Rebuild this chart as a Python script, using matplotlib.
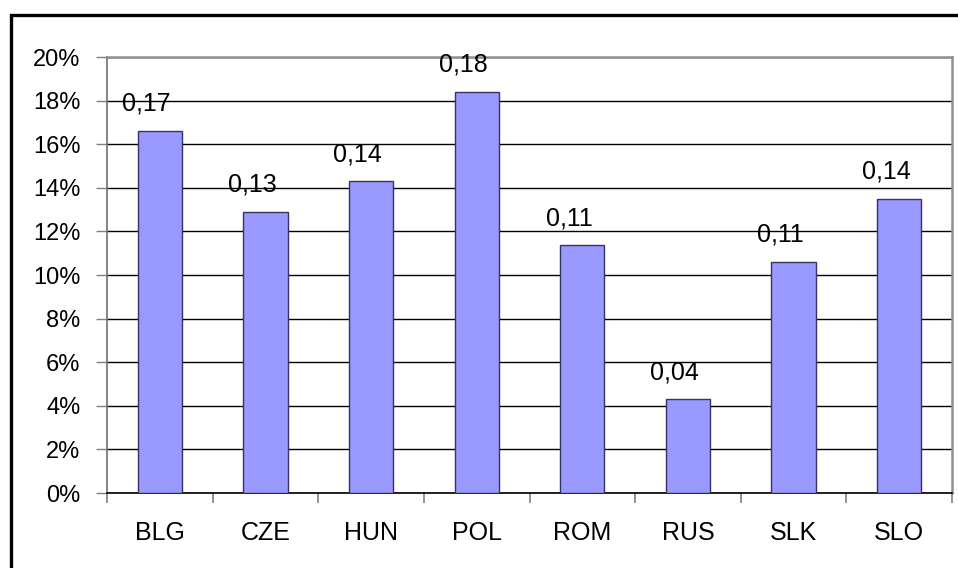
import matplotlib
matplotlib.use('Agg')
from matplotlib import pyplot as plt
from matplotlib.patches import Rectangle
from matplotlib.ticker import FuncFormatter, FixedLocator
import numpy as np

countries = ['BLG', 'CZE', 'HUN', 'POL', 'ROM', 'RUS', 'SLK', 'SLO']
shares = [0.166, 0.129, 0.143, 0.184, 0.1136, 0.043, 0.106, 0.135]
y_ticks = [0.00, 0.02, 0.04, 0.06, 0.08, 0.10, 0.12, 0.14, 0.16, 0.18, 0.20]

plt.rcParams['font.family'] = ['Liberation Sans', 'DejaVu Sans']

W, H = 958, 568
fig = plt.figure(figsize=(W / 100, H / 100), dpi=100)

# outer chart frame (runs off the right/bottom edge)
fig.patches.append(Rectangle((10.5 / W, -0.1), 1.2, 1 - 15 / H + 0.1,
                             transform=fig.transFigure, fill=False,
                             edgecolor='black', linewidth=2.4))

ax = fig.add_axes([107 / W, 1 - 493 / H, (952 - 107) / W, (493 - 57) / H])
x = np.arange(len(countries))
bars = ax.bar(x, shares, width=0.42, color='#9999ff', edgecolor='#333366',
              linewidth=1.0, zorder=3)

# data labels
for xi, v in zip(x, shares):
    ax.annotate(f'{v:.2f}'.replace('.', ','), (xi, v), xytext=(-9.5, 14.5),
                textcoords='offset points', ha='center', va='baseline',
                fontsize=18, zorder=4)

ax.set_xlim(-0.5, len(countries) - 0.5)
ax.set_ylim(0, 0.20)
ax.set_yticks(y_ticks)
ax.yaxis.set_major_formatter(FuncFormatter(lambda v, p: f'{v * 100:.0f}%'))
ax.grid(axis='y', color='black', linewidth=1.0, zorder=0)
ax.set_axisbelow(True)

ax.set_xticks(x)
ax.set_xticklabels(countries)
ax.xaxis.set_minor_locator(FixedLocator(np.arange(-0.5, len(countries), 1.0)))
ax.tick_params(axis='x', which='major', length=0, pad=20, labelsize=18)
ax.tick_params(axis='x', which='minor', length=7, width=1.2, color='#808080')
ax.tick_params(axis='y', length=8, width=1.0, color='#808080', pad=11,
               labelsize=17)

for side in ['top', 'right']:
    ax.spines[side].set_color('#909090')
    ax.spines[side].set_linewidth(1.8)
ax.spines['left'].set_color('#707070')
ax.spines['left'].set_linewidth(1.2)
ax.spines['bottom'].set_color('black')
ax.spines['bottom'].set_linewidth(1.2)

fig.savefig('out.png', dpi=100)
